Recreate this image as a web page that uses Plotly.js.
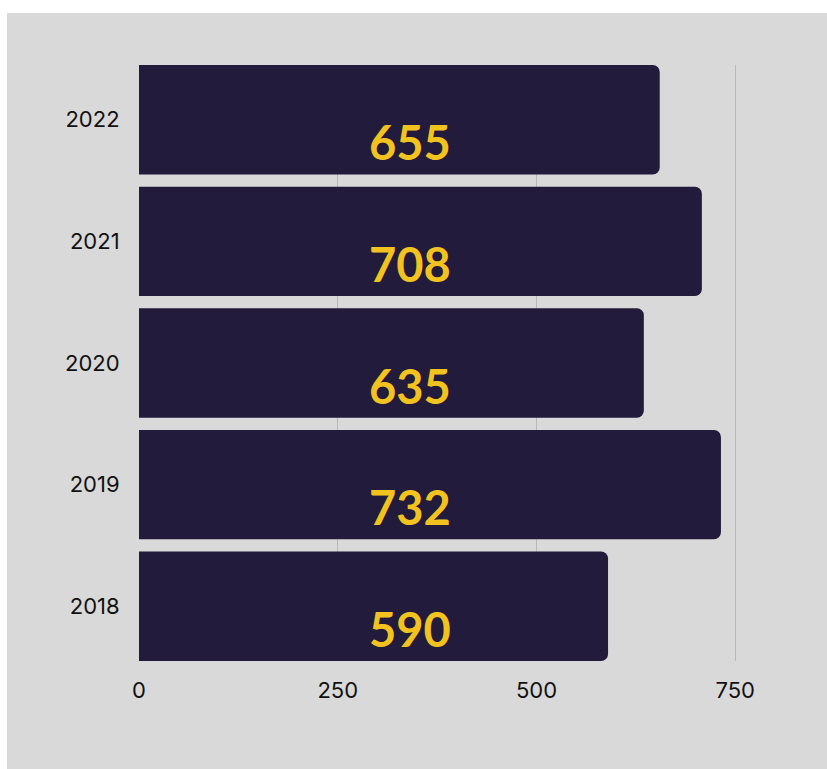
<!DOCTYPE html>
<html>
<head>
<meta charset="utf-8">
<script src="https://cdn.plot.ly/plotly-3.0.1.min.js"></script>
<style>
  html, body { margin: 0; padding: 0; background: #ffffff; }
  #chart { position: absolute; left: 7px; top: 13px; width: 820px; height: 756px; }
</style>
</head>
<body>
<div id="chart"></div>
<script>
const years = ["2018", "2019", "2020", "2021", "2022"];
const values = [590, 732, 635, 708, 655];
const tickVals = [0, 250, 500, 750];
const labelX = 341;

const trace = {
  type: "bar",
  orientation: "h",
  x: values,
  y: years,
  marker: { color: "#221b3b" },
  hoverinfo: "none"
};

const annotations = years.map((yr, i) => ({
  x: labelX,
  y: i - 0.45,
  xref: "x",
  yref: "y",
  text: String(values[i]),
  showarrow: false,
  xanchor: "center",
  yanchor: "bottom",
  yshift: 2,
  font: { family: "Lato", size: 47, color: "#f2c31f", weight: "bold" }
}));

const layout = {
  width: 820,
  height: 756,
  paper_bgcolor: "#d9d9d9",
  plot_bgcolor: "#d9d9d9",
  margin: { l: 132, r: 52, t: 52, b: 108 },
  bargap: 0.1,
  barcornerradius: 7,
  showlegend: false,
  xaxis: {
    range: [0, 800],
    tickvals: tickVals,
    ticktext: tickVals.map(String),
    showgrid: true,
    gridcolor: "#b8b8b8",
    gridwidth: 1,
    zeroline: false,
    showline: false,
    ticks: "outside",
    ticklen: 10,
    tickcolor: "rgba(0,0,0,0)",
    tickfont: { family: "Inter", size: 22, color: "#111111" }
  },
  yaxis: {
    type: "category",
    range: [-0.45, 4.45],
    showgrid: false,
    zeroline: false,
    showline: false,
    ticks: "outside",
    ticklen: 14,
    tickcolor: "rgba(0,0,0,0)",
    tickfont: { family: "Inter", size: 22, color: "#111111" }
  },
  annotations: annotations
};

Plotly.newPlot("chart", [trace], layout, { displayModeBar: false, staticPlot: true });
</script>
</body>
</html>
